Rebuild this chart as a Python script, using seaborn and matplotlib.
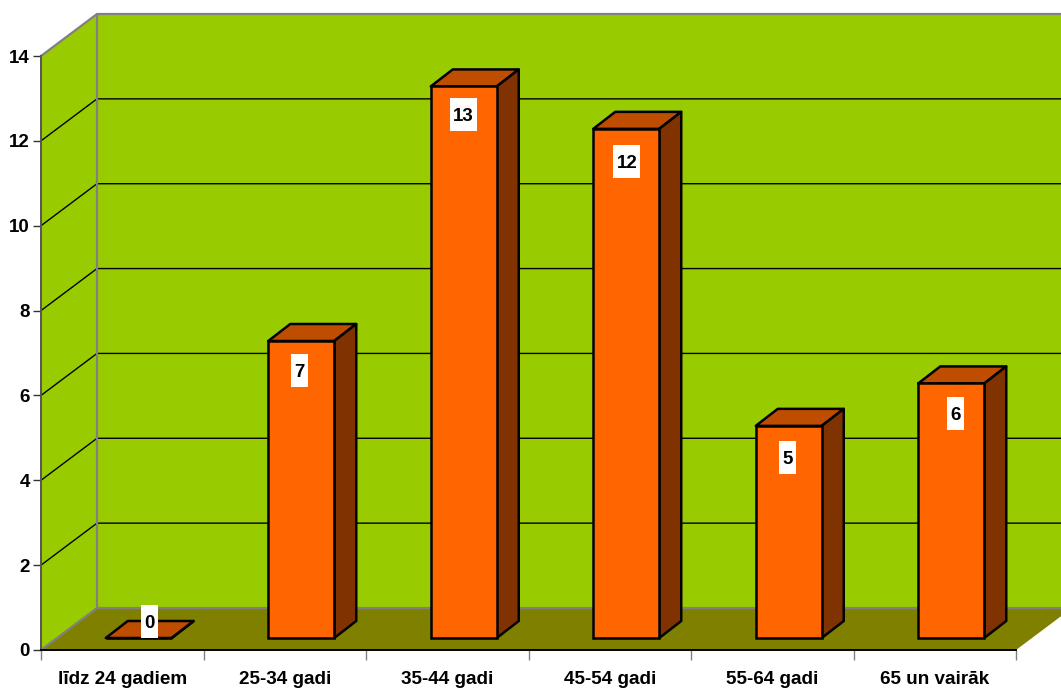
import matplotlib
matplotlib.use('Agg')
import matplotlib.pyplot as plt
from matplotlib.patches import Polygon, Rectangle
import numpy as np
import pandas as pd
import seaborn as sns

# Chart data
age_groups = ['līdz 24 gadiem', '25-34 gadi', '35-44 gadi', '45-54 gadi', '55-64 gadi', '65 un vairāk']
counts = [0, 7, 13, 12, 5, 6]

sns.set_style('white')
plt.rcParams['font.family'] = ['Liberation Sans', 'DejaVu Sans']
plt.rcParams['font.weight'] = 'bold'
plt.rcParams['text.color'] = 'black'
plt.rcParams['xtick.labelcolor'] = 'black'
plt.rcParams['ytick.labelcolor'] = 'black'

WALL = '#99CC00'
FLOOR = '#808000'
FRONT = '#FF6600'
TOP = '#BF4D00'
SIDE = '#803300'
EDGE = '#808080'

# nudges for the white value boxes, in pixels (x from bar centre, y below bar top)
box_nudge_x = [0, -1.5, -0.5, 0.5, -1.5, 4]
box_nudge_y = [0, 13, 12, 16, 15.5, 14]

fig = plt.figure(figsize=(10.61, 6.88), dpi=100)
ax = fig.add_axes([41 / 1061, 38 / 688, 975 / 1061, 594 / 688])

df = pd.DataFrame({'group': age_groups, 'count': counts})
sns.barplot(data=df, x='group', y='count', color=FRONT, saturation=1, width=66 / 162.5,
            edgecolor='black', linewidth=1.8, ax=ax, zorder=5, clip_on=False)

ax.set_xlim(-0.5, 5.5)
ax.set_ylim(0, 14)
ax.set_xlabel('')
ax.set_ylabel('')

# pixel sizes to data units
px_x = 1 / 162.5
px_y = 14 / 594
depth_x, depth_y = 56 * px_x, 42 * px_y


def deep(x, y, d=1.0):
    return (x + d * depth_x, y + d * depth_y)


# walls and floor
x0, x1 = -0.5, 5.5
ax.add_patch(Polygon([deep(x0, 0), deep(x1, 0), deep(x1, 14), deep(x0, 14)], fc=WALL, ec='none', zorder=1, clip_on=False))
ax.add_patch(Polygon([(x0, 0), deep(x0, 0), deep(x0, 14), (x0, 14)], fc=WALL, ec='none', zorder=1, clip_on=False))
ax.add_patch(Polygon([(x0, 0), (x1, 0), deep(x1, 0), deep(x0, 0)], fc=FLOOR, ec='none', zorder=1, clip_on=False))

# grid lines along both walls
for v in range(2, 14, 2):
    a, b, c = (x0, v), deep(x0, v), deep(x1, v)
    ax.plot([a[0], b[0], c[0]], [a[1], b[1], c[1]], color='black', lw=1, zorder=2, clip_on=False)

# wall outline
a, b, c = (x0, 14), deep(x0, 14), deep(x1, 14)
ax.plot([a[0], b[0], c[0]], [a[1], b[1], c[1]], color=EDGE, lw=1.6, zorder=3, clip_on=False)
a, b, c = (x0, 0), deep(x0, 0), deep(x1, 0)
ax.plot([a[0], b[0], c[0]], [a[1], b[1], c[1]], color=EDGE, lw=1.6, zorder=3, clip_on=False)
ax.plot([deep(x0, 0)[0]] * 2, [deep(x0, 0)[1], deep(x0, 14)[1]], color=EDGE, lw=1.6, zorder=3, clip_on=False)

# move the front faces into the room, then add the top and side faces
shift_x, shift_y = 16.5 * px_x, 12 * px_y
bar_dx, bar_dy = 22 * px_x, 17 * px_y
for i, (bar, value) in enumerate(zip(ax.patches[:len(counts)], counts)):
    bar.set_x(bar.get_x() + shift_x)
    bar.set_y(bar.get_y() + shift_y)
    left, right = bar.get_x(), bar.get_x() + bar.get_width()
    low, high = bar.get_y(), bar.get_y() + bar.get_height()
    ax.add_patch(Polygon([(left, high), (right, high), (right + bar_dx, high + bar_dy), (left + bar_dx, high + bar_dy)],
                         fc=TOP, ec='black', lw=1.8, zorder=4, joinstyle='round', clip_on=False))
    ax.add_patch(Polygon([(right, low), (right + bar_dx, low + bar_dy), (right + bar_dx, high + bar_dy), (right, high)],
                         fc=SIDE, ec='black', lw=1.8, zorder=4, joinstyle='round', clip_on=False))

    # white value label
    box_w = (27 if value >= 10 else 17) * px_x
    box_h = 33 * px_y
    if value == 0:
        cx = (left + right) / 2 + 11 * px_x
        cy = low + box_h / 2
    else:
        cx = (left + right) / 2 + box_nudge_x[i] * px_x
        cy = high - box_nudge_y[i] * px_y - box_h / 2
    ax.add_patch(Rectangle((cx - box_w / 2, cy - box_h / 2), box_w, box_h, fc='white', ec='none', zorder=6, clip_on=False))
    ax.text(cx, cy, str(value), ha='center', va='center_baseline', fontsize=13.5, fontweight='bold', color='black', zorder=7)

# axes
sns.despine(ax=ax, top=True, right=True)
ax.spines['left'].set_color('#555555')
ax.spines['left'].set_linewidth(1.4)
ax.spines['bottom'].set_color('black')
ax.spines['bottom'].set_linewidth(1.4)
ax.spines['left'].set_zorder(8)
ax.spines['bottom'].set_zorder(8)
ax.set_yticks(range(0, 15, 2))
ax.tick_params(axis='y', length=6, width=1, color='#333333', left=True, labelsize=13.5, pad=2)
ax.set_xticks(np.arange(6))
ax.set_xticklabels(age_groups, fontsize=13.6, fontweight='bold')
ax.set_xticks(np.arange(-0.5, 6), minor=True)
ax.tick_params(axis='x', which='major', length=0, pad=15)
ax.tick_params(axis='x', which='minor', length=7, width=1, color='#808080', bottom=True)
for label in ax.get_yticklabels():
    label.set_fontweight('bold')

fig.savefig('out.png', dpi=100, facecolor='white')
